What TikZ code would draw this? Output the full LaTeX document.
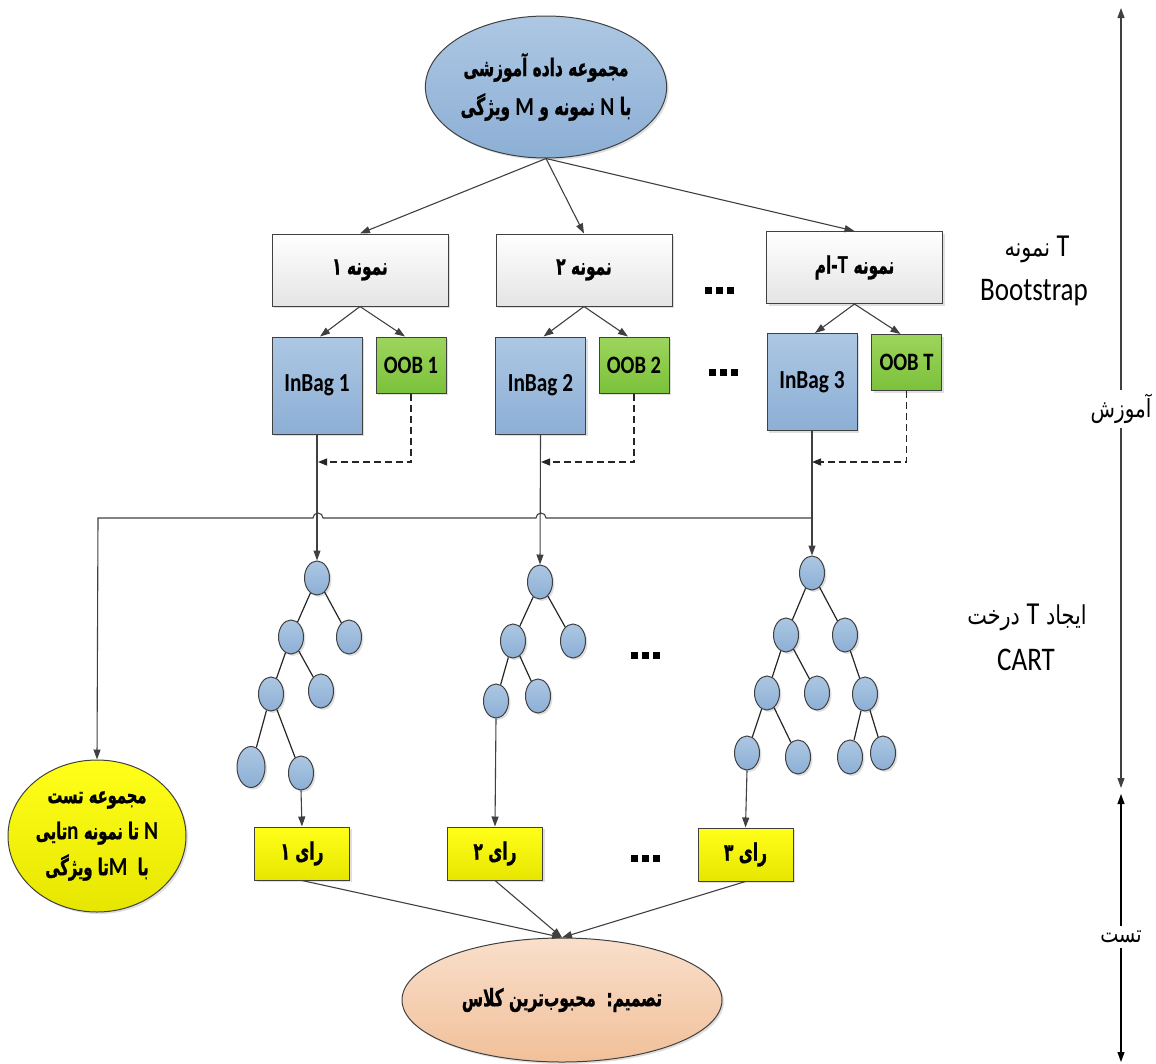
\documentclass[tikz,border=0pt]{standalone}
\usepackage{fontspec}
\setmainfont{Carlito}
\TeXXeTstate=1
\newfontfamily\fa[Script=Arabic,FakeStretch=0.64,FakeBold=1]{DejaVu Sans}
\newfontfamily\far[Script=Arabic,FakeStretch=0.8]{DejaVu Sans}
\newfontfamily\lat[FakeStretch=0.82]{Carlito}
\newcommand{\latb}[1]{{\lat\bfseries\fontsize{26}{30}\selectfont #1}}
\newcommand{\rl}[1]{\beginR #1\endR}
\newcommand{\sqdots}{\rule{7pt}{7pt}\hspace{4pt}\rule{7pt}{7pt}\hspace{4pt}\rule{7pt}{7pt}}
\usetikzlibrary{arrows.meta,shapes.geometric,shadows}
\definecolor{edge}{HTML}{404040}
\definecolor{blueT}{HTML}{ADC7E3}
\definecolor{blueB}{HTML}{8CAFD5}
\definecolor{greenT}{HTML}{9DD55C}
\definecolor{greenB}{HTML}{7BC13A}
\definecolor{yelT}{HTML}{FFFF1A}
\definecolor{yelB}{HTML}{E6E600}
\definecolor{peachT}{HTML}{F9DFCB}
\definecolor{peachB}{HTML}{F1C09A}
\definecolor{grayB}{HTML}{E4E4E4}
\begin{document}
\begin{tikzpicture}[x=1pt,y=-1pt,
  shad/.style={drop shadow={opacity=0.25,shadow xshift=2pt,shadow yshift=-2pt}},
  boxbase/.style={draw=edge,line width=1pt,inner sep=0pt,shad},
  samplebox/.style={boxbase,top color=white,bottom color=grayB,minimum width=176pt,minimum height=72pt,font=\fa\bfseries\fontsize{24}{28}\selectfont},
  inbag/.style={boxbase,top color=blueT,bottom color=blueB,minimum width=90pt,minimum height=97pt,font=\lat\bfseries\fontsize{26}{28}\selectfont},
  oob/.style={boxbase,top color=greenT,bottom color=greenB,minimum width=70pt,minimum height=56pt,font=\lat\bfseries\fontsize{25}{28}\selectfont},
  vote/.style={boxbase,top color=yelT,bottom color=yelB,minimum width=95pt,minimum height=53pt,font=\fa\bfseries\fontsize{24}{28}\selectfont},
  tnode/.style={ellipse,draw=edge,line width=1pt,top color=blueT,bottom color=blueB,minimum width=25pt,minimum height=34pt,inner sep=0pt,shad},
  arr/.style={draw=edge,line width=1.1pt,-{Triangle[length=10pt,width=7pt]}},
  darr/.style={draw=black!85,line width=1.3pt,dash pattern=on 7pt off 4pt,-{Triangle[length=9pt,width=7pt]}},
  tedge/.style={draw=black!85,line width=1.2pt},
  dots/.style={inner sep=0pt},
  side/.style={align=center,inner sep=2pt}
]
\useasboundingbox (0,0) rectangle (1156,1063);

% top ellipse
\node[ellipse,draw=edge,line width=1pt,top color=blueT,bottom color=blueB,minimum width=228pt,minimum height=142pt,inner sep=0pt,shad,align=center,font=\fa\bfseries\fontsize{24}{39}\selectfont] (train) at (546,87)
  {\rl{مجموعه داده آموزشی}\\\rl{با \latb{N} نمونه و \latb{M} ویژگی}};

% sample boxes
\node[samplebox] (s1) at (360,270) {\rl{نمونه ۱}};
\node[samplebox] (s2) at (584,270) {\rl{نمونه ۲}};
\node[samplebox] (s3) at (854.5,267.5) {\rl{نمونه \latb{T}-ام}};
\node[dots] (dA) at (719,290) {\sqdots};

% inbag / oob
\node[inbag] (in1) at (317,385.5) {InBag 1};
\node[inbag] (in2) at (540.5,385.5) {InBag 2};
\node[inbag] (in3) at (812,382) {InBag 3};
\node[oob] (o1) at (411,365) {OOB 1};
\node[oob] (o2) at (634,365) {OOB 2};
\node[oob] (o3) at (906.5,362.5) {OOB T};
\node[dots] (dB) at (723,372) {\sqdots};

% arrows top
\draw[arr] (train.south) -- (s1.north);
\draw[arr] (train.south) -- (s2.north);
\draw[arr] (train.south) -- (s3.north);
\foreach \s/\i/\o in {s1/in1/o1,s2/in2/o2,s3/in3/o3}{
  \draw[arr] (\s.south) -- ([xshift=3pt]\i.north);
  \draw[arr] (\s.south) -- ([xshift=-6pt]\o.north);
}

% trees
\node[tnode] (a0) at (317,578) {};
\node[tnode] (a1) at (291,637) {};
\node[tnode] (a2) at (349,637) {};
\node[tnode] (a3) at (271,694) {};
\node[tnode] (a4) at (321,691) {};
\node[tnode,minimum width=28pt,minimum height=41pt] (a5) at (251,767) {};
\node[tnode] (a6) at (301,773) {};
\draw[tedge] (a0) -- (a1); \draw[tedge] (a0) -- (a2);
\draw[tedge] (a1) -- (a3); \draw[tedge] (a1) -- (a4);
\draw[tedge] (a3) -- (a5); \draw[tedge] (a3) -- (a6);

\node[tnode] (b0) at (540,582) {};
\node[tnode] (b1) at (513,641) {};
\node[tnode] (b2) at (573,641) {};
\node[tnode] (b3) at (496,701) {};
\node[tnode] (b4) at (538,696) {};
\draw[tedge] (b0) -- (b1); \draw[tedge] (b0) -- (b2);
\draw[tedge] (b1) -- (b3); \draw[tedge] (b1) -- (b4);

\node[tnode] (c0) at (812,573) {};
\node[tnode] (c1) at (786,635) {};
\node[tnode] (c2) at (845,635) {};
\node[tnode] (c3) at (767,693) {};
\node[tnode] (c4) at (817,693) {};
\node[tnode] (c5) at (865,694) {};
\node[tnode] (c6) at (747,753) {};
\node[tnode] (c7) at (798,757) {};
\node[tnode] (c8) at (850,757) {};
\node[tnode] (c9) at (883,753) {};
\draw[tedge] (c0) -- (c1); \draw[tedge] (c0) -- (c2);
\draw[tedge] (c1) -- (c3); \draw[tedge] (c1) -- (c4);
\draw[tedge] (c2) -- (c5);
\draw[tedge] (c3) -- (c6); \draw[tedge] (c3) -- (c7);
\draw[tedge] (c5) -- (c8); \draw[tedge] (c5) -- (c9);
\node[dots] (dC) at (645,655) {\sqdots};

% inbag to trees
\draw[arr] (in1.south) -- (a0.north);
\draw[arr] (in2.south) -- (b0.north);
\draw[arr] (in3.south) -- (c0.north);

% dashed OOB feedback
\coordinate (d1) at (318,462);
\coordinate (d2) at (541,462);
\coordinate (d3) at (812,462);
\draw[darr] (o1.south) |- (d1);
\draw[darr] (o2.south) |- (d2);
\draw[darr] (o3.south) |- (d3);

% test set ellipse
\node[ellipse,draw=edge,line width=1pt,top color=yelT,bottom color=yelB,minimum width=178pt,minimum height=152pt,inner sep=0pt,shad,align=center,font=\fa\bfseries\fontsize{23}{36}\selectfont] (test) at (97,836)
  {\rl{مجموعه تست}\\\rl{\latb{N} تا نمونه \latb{n}تایی}\\\rl{با\ \ \latb{M}تا ویژگی}};

% horizontal line with hops
\coordinate (h3) at (812,518);
\draw[arr] (h3) -- (546,518) arc[start angle=0,end angle=-180,radius=5] -- (323,518) arc[start angle=0,end angle=-180,radius=5] -- (98,518) -- (test.north);

% votes
\node[vote] (v1) at (302,853.5) {\rl{رای ۱}};
\node[vote] (v2) at (495,853.5) {\rl{رای ۲}};
\node[vote] (v3) at (745.5,854.5) {\rl{رای ۳}};
\node[dots] (dD) at (645,858) {\sqdots};
\draw[arr] (a6.south) -- (v1.north);
\draw[arr] (b3.south) -- (v2.north);
\draw[arr] (c6.south) -- (v3.north);

% decision ellipse
\node[ellipse,draw=edge,line width=1pt,top color=peachT,bottom color=peachB,minimum width=320pt,minimum height=124pt,inner sep=0pt,shad,font=\fa\bfseries\fontsize{24}{28}\selectfont] (dec) at (562,1000)
  {\rl{تصمیم:\ \ محبوب‌ترین کلاس}};
\draw[arr] (v1.south) -- (dec.north);
\draw[arr] (v2.south) -- (dec.north);
\draw[arr] (v3.south) -- (dec.north);

% right side labels
\node[side,font=\far\fontsize{26}{30}\selectfont] (lb1) at (1037,249) {\rl{{\lat\fontsize{32}{34}\selectfont T} نمونه}};
\node[side,font=\lat\fontsize{33}{36}\selectfont] (lb2) at (1034,293) {Bootstrap};
\node[side,font=\far\fontsize{26}{30}\selectfont] (lb3) at (1027,617) {\rl{ایجاد {\lat\fontsize{32}{34}\selectfont T} درخت}};
\node[side,font=\lat\fontsize{33}{36}\selectfont] (lb4) at (1026,660) {CART};

% phase axis
\node[font=\far\fontsize{25}{28}\selectfont,inner sep=4pt] (amz) at (1121,409) {آموزش};
\coordinate (axtop) at (1121,8);
\coordinate (axmid1) at (1121,788);
\draw[arr] (amz.north) -- (axtop);
\draw[arr] (amz.south) -- (axmid1);
\node[font=\far\fontsize{24}{28}\selectfont,inner sep=5pt] (tst) at (1121,937) {تست};
\coordinate (axmid2) at (1121,794);
\coordinate (axbot) at (1121,1062);
\draw[draw=black,line width=1.1pt,-{Triangle[length=10pt,width=7pt]}] (tst.north) -- (axmid2);
\draw[draw=black,line width=1.1pt,-{Triangle[length=10pt,width=7pt]}] (tst.south) -- (axbot);
\end{tikzpicture}
\end{document}
